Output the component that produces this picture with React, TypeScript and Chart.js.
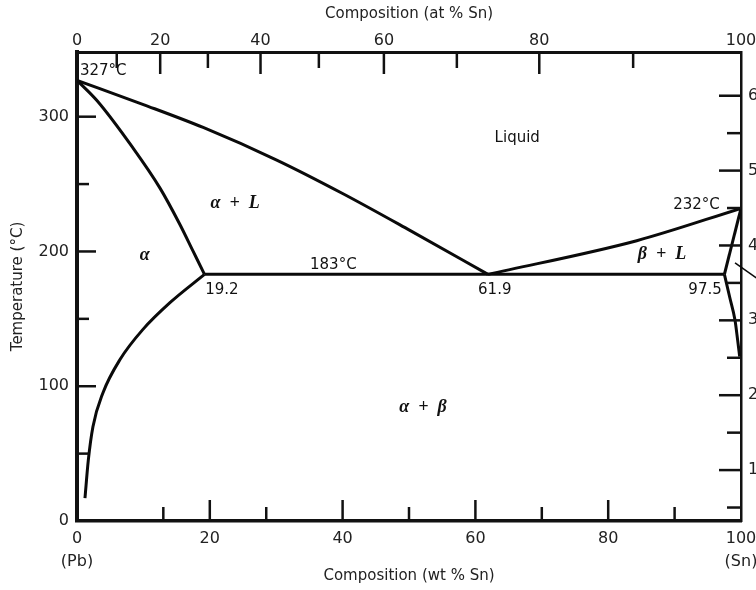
import React, { useEffect, useRef } from "react";
import { Chart, registerables } from "chart.js";

Chart.register(...registerables);

// ---- Phase boundaries (composition in wt% Sn, temperature in °C) ----
const liquidusAlphaWt = [0, 10, 19, 30, 40, 50, 61.9];
const liquidusAlphaT = [327, 309, 292, 268, 243, 216, 183];
const solidusAlphaWt = [0, 3.0, 8.4, 12.5, 15.5, 17.5, 19.2];
const solidusAlphaT = [327, 312, 277, 247, 220, 200, 183];
const solvusAlphaWt = [1.2, 1.7, 2.4, 3.9, 6.5, 9.9, 14.0, 19.2];
const solvusAlphaT = [17, 45, 70, 95, 120, 142, 162, 183];
const eutecticWt = [19.2, 61.9, 97.5];
const eutecticT = [183, 183, 183];
const liquidusBetaWt = [61.9, 84.3, 100];
const liquidusBetaT = [183, 208, 232];
const solidusBetaWt = [97.5, 100];
const solidusBetaT = [183, 232];
const solvusBetaWt = [97.5, 98.3, 99.1, 99.5, 99.8];
const solvusBetaT = [183, 166, 149, 134, 122];
const leaderWt = [99.1, 102.3];
const leaderT = [191.6, 180.4];

// ---- Axes ----
const tempRange = [0, 348];
const wtTicks = [0, 20, 40, 60, 80, 100];
const wtMinorTicks = [13, 28.5, 50, 70, 90];
const atTicks = [0, 20, 40, 60, 80, 100];
const atMinorTicks = [10, 30, 50, 70, 90];
const tempTicks = [0, 100, 200, 300];
const tempMinorTicks = [50, 150, 250];
const fahrTicks = [100, 200, 300, 400, 500, 600];
const fahrMinorTicks = [50, 150, 250, 350, 450, 550];
const massSn = 118.71;
const massPb = 207.2;

const atToWt = (a: number) => ((a * massSn) / (a * massSn + (100 - a) * massPb)) * 100;
const cToF = (c: number) => c * 1.8 + 32;

// ---- Labels (wt% Sn, °C) ----
const SANS = "'DejaVu Sans', sans-serif";
const numFont = `15px ${SANS}`;
const greekFont = "italic bold 18px 'Liberation Serif', serif";
const annotations = [
  { text: "327°C", x: 0.45, y: 334, font: numFont, align: "left" },
  { text: "Liquid", x: 66.3, y: 284, font: numFont, align: "center" },
  { text: "α  +  L", x: 23.8, y: 236, font: greekFont, align: "center" },
  { text: "α", x: 10.2, y: 197, font: greekFont, align: "center" },
  { text: "183°C", x: 38.6, y: 190, font: numFont, align: "center" },
  { text: "19.2", x: 19.3, y: 171.5, font: numFont, align: "left" },
  { text: "61.9", x: 60.4, y: 171.5, font: numFont, align: "left" },
  { text: "97.5", x: 97.1, y: 171.5, font: numFont, align: "right" },
  { text: "232°C", x: 96.8, y: 234.6, font: numFont, align: "right" },
  { text: "β  +  L", x: 88.1, y: 197.5, font: greekFont, align: "center" },
  { text: "α  +  β", x: 52.1, y: 84.6, font: greekFont, align: "center" },
];

const toPts = (xs: number[], ys: number[]) => xs.map((v, i) => ({ x: v, y: ys[i] }));

const overlay = {
  id: "overlay",
  afterDraw(chart: any) {
    const { ctx, chartArea, scales } = chart;
    const { x, xTop, y, y2 } = scales;
    ctx.save();
    ctx.strokeStyle = "#111";
    ctx.lineCap = "butt";
    ctx.lineWidth = 2.5;
    const vLine = (px: number, y0: number, y1: number) => {
      ctx.beginPath();
      ctx.moveTo(px, y0);
      ctx.lineTo(px, y1);
      ctx.stroke();
    };
    const hLine = (py: number, x0: number, x1: number) => {
      ctx.beginPath();
      ctx.moveTo(x0, py);
      ctx.lineTo(x1, py);
      ctx.stroke();
    };
    // bottom (wt%)
    wtTicks.slice(1, -1).forEach((v) => vLine(x.getPixelForValue(v), chartArea.bottom, chartArea.bottom - 21));
    wtMinorTicks.forEach((v) => vLine(x.getPixelForValue(v), chartArea.bottom, chartArea.bottom - 14));
    // top (at%)
    atTicks.slice(1, -1).forEach((a) => vLine(xTop.getPixelForValue(atToWt(a)), chartArea.top, chartArea.top + 22));
    atMinorTicks.forEach((a) => vLine(xTop.getPixelForValue(atToWt(a)), chartArea.top, chartArea.top + 16));
    // left (°C)
    tempTicks.slice(1).forEach((v) => hLine(y.getPixelForValue(v), chartArea.left, chartArea.left + 19));
    tempMinorTicks.forEach((v) => hLine(y.getPixelForValue(v), chartArea.left, chartArea.left + 12));
    // right (°F)
    fahrTicks.forEach((v) => hLine(y2.getPixelForValue(v), chartArea.right, chartArea.right - 22));
    fahrMinorTicks.forEach((v) => hLine(y2.getPixelForValue(v), chartArea.right, chartArea.right - 14));

    // region / point labels
    ctx.fillStyle = "#111";
    ctx.textBaseline = "middle";
    annotations.forEach((a) => {
      ctx.font = a.font;
      ctx.textAlign = a.align;
      ctx.fillText(a.text, x.getPixelForValue(a.x), y.getPixelForValue(a.y));
    });
    ctx.restore();
  },
};

export default function App() {
  const ref = useRef<HTMLCanvasElement | null>(null);

  useEffect(() => {
    if (!ref.current) return;
    const line = (xs: number[], ys: number[], smooth = false, extra: any = {}) => ({
      type: "line",
      data: toPts(xs, ys),
      showLine: true,
      borderColor: "#0a0a0a",
      borderWidth: 3,
      pointRadius: 0,
      tension: smooth ? 0.4 : 0,
      cubicInterpolationMode: smooth ? "monotone" : "default",
      fill: false,
      xAxisID: "x",
      yAxisID: "y",
      ...extra,
    });
    const tickFont = { family: SANS, size: 16 };
    const titleFont = { family: SANS, size: 15 };
    const chart = new Chart(ref.current, {
      type: "scatter",
      data: {
        datasets: [
          line(liquidusAlphaWt, liquidusAlphaT, true),
          line(solidusAlphaWt, solidusAlphaT, true),
          line(solvusAlphaWt, solvusAlphaT, true),
          line(eutecticWt, eutecticT),
          line(liquidusBetaWt, liquidusBetaT, true),
          line(solidusBetaWt, solidusBetaT),
          line(solvusBetaWt, solvusBetaT, true),
          line(leaderWt, leaderT, false, { borderWidth: 1.5, clip: false }),
        ] as any,
      },
      options: {
        animation: false,
        responsive: false,
        devicePixelRatio: 1,
        layout: { padding: 0 },
        plugins: { legend: { display: false }, tooltip: { enabled: false } },
        scales: {
          x: {
            type: "linear",
            axis: "x",
            position: "bottom",
            min: 0,
            max: 100,
            afterBuildTicks: (s: any) => {
              s.ticks = wtTicks.map((v) => ({ value: v }));
            },
            afterFit: (s: any) => {
              s.height = 69;
            },
            ticks: {
              autoSkip: false,
              maxRotation: 0,
              padding: 7,
              color: "#222",
              font: { ...tickFont, lineHeight: 1.4 },
              callback: (v: any) => (v === 0 ? ["0", "(Pb)"] : v === 100 ? ["100", "(Sn)"] : String(v)),
            },
            grid: { display: false, drawTicks: false },
            border: { display: true, color: "#111", width: 3.5 },
            title: {
              display: true,
              text: "Composition (wt % Sn)",
              color: "#222",
              font: titleFont,
              padding: { top: 0, bottom: 5 },
            },
          },
          xTop: {
            type: "linear",
            axis: "x",
            position: "top",
            min: 0,
            max: 100,
            afterBuildTicks: (s: any) => {
              s.ticks = atTicks.map((a) => ({ value: atToWt(a) }));
            },
            afterFit: (s: any) => {
              s.height = 52;
            },
            ticks: {
              autoSkip: false,
              maxRotation: 0,
              padding: 2,
              color: "#222",
              font: { ...tickFont, lineHeight: 1.2 },
              callback: (_v: any, i: number) => String(atTicks[i]),
            },
            grid: { display: false, drawTicks: false },
            border: { display: true, color: "#111", width: 3 },
            title: {
              display: true,
              text: "Composition (at % Sn)",
              color: "#222",
              font: titleFont,
              padding: { top: 5, bottom: 0 },
            },
          },
          y: {
            type: "linear",
            axis: "y",
            position: "left",
            min: tempRange[0],
            max: tempRange[1],
            afterBuildTicks: (s: any) => {
              s.ticks = tempTicks.map((v) => ({ value: v }));
            },
            afterFit: (s: any) => {
              s.width = 77;
            },
            ticks: { padding: 8, color: "#222", font: tickFont, callback: (v: any) => String(v) },
            grid: { display: false, drawTicks: false },
            border: { display: true, color: "#111", width: 4 },
            title: {
              display: true,
              text: "Temperature (°C)",
              color: "#222",
              font: titleFont,
              padding: { top: 9, bottom: 0 },
            },
          },
          y2: {
            type: "linear",
            axis: "y",
            position: "right",
            min: cToF(tempRange[0]),
            max: cToF(tempRange[1]),
            afterBuildTicks: (s: any) => {
              s.ticks = fahrTicks.map((v) => ({ value: v }));
            },
            afterFit: (s: any) => {
              s.width = 49;
            },
            ticks: { padding: 7, color: "#222", font: tickFont, callback: (v: any) => String(v) },
            grid: { display: false, drawTicks: false },
            border: { display: true, color: "#111", width: 2.5 },
          },
        },
      } as any,
      plugins: [overlay as any],
    });
    return () => chart.destroy();
  }, []);

  return (
    <div
      style={{
        position: "absolute",
        left: 0,
        top: 0,
        width: 756,
        height: 590,
        overflow: "hidden",
        background: "#fff",
      }}
    >
      <canvas ref={ref} width={790} height={590} style={{ display: "block", width: 790, height: 590 }} />
    </div>
  );
}
